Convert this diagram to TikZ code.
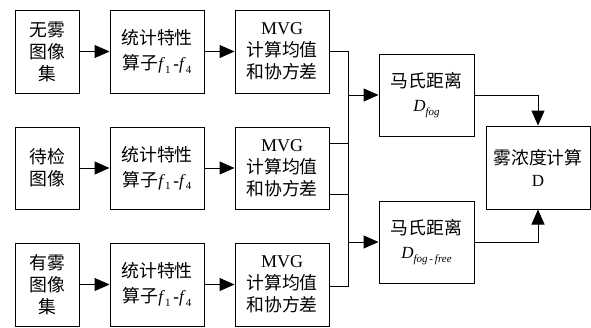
\documentclass[tikz,border=0pt]{standalone}
\usepackage{fontspec}
\setmainfont{Liberation Serif}
\newfontfamily\cjk{Noto Sans CJK SC}[Scale=1.05]
\usetikzlibrary{arrows.meta}
\newcommand{\sub}[1]{\raisebox{-0.45ex}{\fontsize{11}{11}\selectfont #1}}
\begin{document}
\begin{tikzpicture}[x=1pt,y=-1pt,
  box/.style={draw,line width=1pt,inner sep=0pt,align=center,font=\fontsize{17}{22}\selectfont},
  conn/.style={line width=1pt,-{Triangle[length=15pt,width=13pt]}},
  line/.style={line width=1pt}]
\useasboundingbox (0,0) rectangle (591,327);
% row 1
\node[box,minimum width=64pt,minimum height=83pt] (a1) at (47,51.5) {\cjk 无雾\\\cjk 图像\\\cjk 集};
\node[box,minimum width=94pt,minimum height=83pt] (b1) at (157,51.5) {\cjk 统计特性\\[3pt]{\cjk 算子}\textit{f}\sub{1}\,\textbf{-}\textit{f}\sub{4}};
\node[box,minimum width=94pt,minimum height=83pt] (c1) at (282,51.5) {{\fontsize{18}{22}\selectfont MVG}\\\cjk 计算均值\\\cjk 和协方差};
% row 2
\node[box,minimum width=64pt,minimum height=82pt] (a2) at (47,168) {\cjk 待检\\\cjk 图像};
\node[box,minimum width=94pt,minimum height=82pt] (b2) at (157,168) {\cjk 统计特性\\[3pt]{\cjk 算子}\textit{f}\sub{1}\,\textbf{-}\textit{f}\sub{4}};
\node[box,minimum width=94pt,minimum height=82pt] (c2) at (282,168) {{\fontsize{18}{22}\selectfont MVG}\\\cjk 计算均值\\\cjk 和协方差};
% row 3
\node[box,minimum width=64pt,minimum height=83pt] (a3) at (47,284.5) {\cjk 有雾\\\cjk 图像\\\cjk 集};
\node[box,minimum width=94pt,minimum height=83pt] (b3) at (157,284.5) {\cjk 统计特性\\[3pt]{\cjk 算子}\textit{f}\sub{1}\,\textbf{-}\textit{f}\sub{4}};
\node[box,minimum width=94pt,minimum height=83pt] (c3) at (282,284.5) {{\fontsize{18}{22}\selectfont MVG}\\\cjk 计算均值\\\cjk 和协方差};
% distances
\node[box,minimum width=95pt,minimum height=82pt] (m1) at (426.5,95) {\cjk 马氏距离\\[2pt]\textit{D}\sub{\itshape fog}};
\node[box,minimum width=95pt,minimum height=82pt] (m2) at (426.5,242) {\cjk 马氏距离\\[2pt]\textit{D}\sub{\itshape fog\,-\,free}};
\node[box,minimum width=104pt,minimum height=83pt] (f) at (538,167.5) {\cjk 雾浓度计算\\D};
% coordinates
\coordinate (j1) at (348,95);
\coordinate (j2) at (348,242);
% arrows
\draw[conn] (a1) -- (b1);
\draw[conn] (b1) -- (c1);
\draw[conn] (a2) -- (b2);
\draw[conn] (b2) -- (c2);
\draw[conn] (a3) -- (b3);
\draw[conn] (b3) -- (c3);
\draw[line] (c1.east) -| (j1);
\draw[line] ([yshift=-26pt]c2.east) -| (j1);
\draw[conn] (j1) -- (m1.west);
\draw[line] ([yshift=25pt]c2.east) -| (j2);
\draw[line] ([yshift=-1.5pt]c3.east) -| (j2);
\draw[conn] (j2) -- (m2.west);
\draw[conn] (m1.east) -| (f.north);
\draw[conn] (m2.east) -| (f.south);
\end{tikzpicture}
\end{document}
